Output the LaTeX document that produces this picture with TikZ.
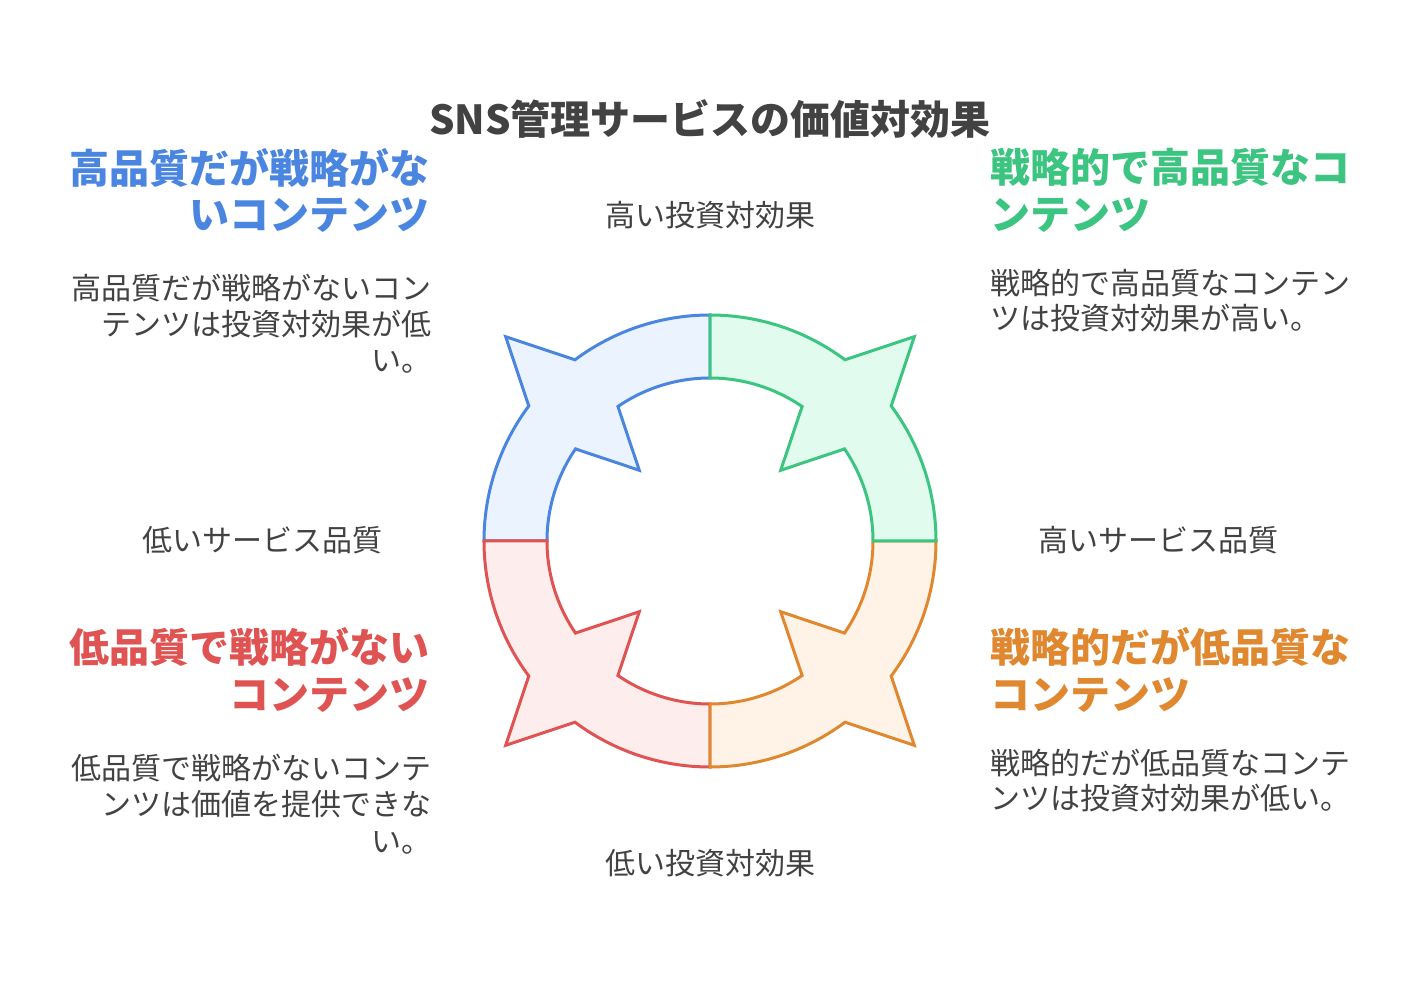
\documentclass[tikz,border=0pt]{standalone}
\usepackage{fontspec}
\setmainfont{Noto Sans CJK JP}
\definecolor{txtgray}{HTML}{424242}
\definecolor{bluestroke}{HTML}{4A86E0}
\definecolor{bluefill}{HTML}{EBF4FE}
\definecolor{greenstroke}{HTML}{3CC481}
\definecolor{greenfill}{HTML}{E1FBEF}
\definecolor{redstroke}{HTML}{E05353}
\definecolor{redfill}{HTML}{FDEDEC}
\definecolor{orangestroke}{HTML}{E0882F}
\definecolor{orangefill}{HTML}{FEF3E6}
\newcommand\qband[1]{({#1-45}:226) arc[start angle={#1-45}, end angle={#1-8.3}, radius=226] -- (#1:289) -- ({#1+8.3}:226) arc[start angle={#1+8.3}, end angle={#1+45}, radius=226] -- ({#1+45}:163) arc[start angle={#1+45}, end angle={#1+10.6}, radius=163] -- (#1:100) -- ({#1-10.6}:163) arc[start angle={#1-10.6}, end angle={#1-45}, radius=163] -- cycle}
\tikzset{
  band/.style={line width=1.5pt},
  titletxt/.style={inner sep=0pt, anchor=base, text=txtgray, font=\fontsize{20}{24}\selectfont\bfseries},
  headtxt/.style={inner sep=0pt, font=\fontsize{20}{24}\selectfont\bfseries},
  bodytxt/.style={inner sep=0pt, text=txtgray, font=\fontsize{15}{18}\selectfont},
}
\begin{document}
\begin{tikzpicture}[x=0.5pt,y=-0.5pt]
\useasboundingbox (0,0) rectangle (1420,988);
\fill[white] (0,0) rectangle (1420,988);

\begin{scope}[shift={(710,541)}, yscale=-1]
  \draw[band, draw=bluestroke, fill=bluefill] \qband{135};
  \draw[band, draw=redstroke, fill=redfill] \qband{225};
  \draw[band, draw=orangestroke, fill=orangefill] \qband{315};
  \draw[band, draw=greenstroke, fill=greenfill] \qband{45};
\end{scope}

\node[titletxt] (title) at (710,135) {SNS管理サービスの価値対効果};

\node[bodytxt, anchor=base] (hiroi) at (710,227) {高い投資対効果};
\node[bodytxt, anchor=base] (loroi) at (710,875) {低い投資対効果};
\node[bodytxt, anchor=base] (loq) at (262,552) {低いサービス品質};
\node[bodytxt, anchor=base] (hiq) at (1158,552) {高いサービス品質};

% blue (upper left)
\node[headtxt, text=bluestroke, anchor=base east] (bh1) at (430,184) {高品質だが戦略がな};
\node[headtxt, text=bluestroke, anchor=base east] (bh2) at (430,230) {いコンテンツ};
\node[bodytxt, anchor=base east] (bb1) at (432,300) {高品質だが戦略がないコン};
\node[bodytxt, anchor=base east] (bb2) at (432,336) {テンツは投資対効果が低};
\node[bodytxt, anchor=base east] (bb3) at (432,372) {い。};

% green (upper right)
\node[headtxt, text=greenstroke, anchor=base west] (gh1) at (990,183) {戦略的で高品質なコ};
\node[headtxt, text=greenstroke, anchor=base west] (gh2) at (990,230) {ンテンツ};
\node[bodytxt, anchor=base west] (gb1) at (990,295) {戦略的で高品質なコンテン};
\node[bodytxt, anchor=base west] (gb2) at (990,330) {ツは投資対効果が高い。};

% red (lower left)
\node[headtxt, text=redstroke, anchor=base east] (rh1) at (430,663) {低品質で戦略がない};
\node[headtxt, text=redstroke, anchor=base east] (rh2) at (430,710) {コンテンツ};
\node[bodytxt, anchor=base east] (rb1) at (432,780) {低品質で戦略がないコンテ};
\node[bodytxt, anchor=base east] (rb2) at (432,816) {ンツは価値を提供できな};
\node[bodytxt, anchor=base east] (rb3) at (432,852) {い。};

% orange (lower right)
\node[headtxt, text=orangestroke, anchor=base west] (oh1) at (990,663) {戦略的だが低品質な};
\node[headtxt, text=orangestroke, anchor=base west] (oh2) at (990,710) {コンテンツ};
\node[bodytxt, anchor=base west] (ob1) at (990,775) {戦略的だが低品質なコンテ};
\node[bodytxt, anchor=base west] (ob2) at (990,810) {ンツは投資対効果が低い。};
\end{tikzpicture}
\end{document}
